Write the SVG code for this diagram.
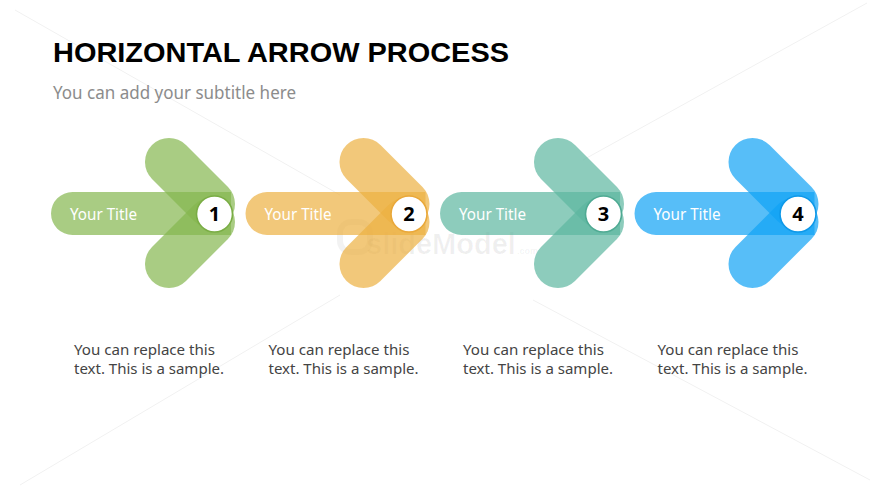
<svg xmlns="http://www.w3.org/2000/svg" width="870" height="489" viewBox="0 0 870 489">
<style>
.bg{fill:#ffffff}
.wm{stroke:#f1f1f1;stroke-width:1;fill:none}
.wmt{font-family:"Liberation Sans",Arial,sans-serif;font-weight:bold;fill:#000;fill-opacity:0.06}
.title{font-family:"Liberation Sans",Arial,sans-serif;font-weight:bold;font-size:28px;fill:#000}
.sub{font-family:"Noto Sans","Open Sans",sans-serif;font-size:17.5px;fill:#8c8c8c}
.body{font-family:"Noto Sans","Open Sans",sans-serif;font-size:15px;fill:#444444}
.lbl{font-family:"Noto Sans","Open Sans",sans-serif;font-size:16px;fill:#ffffff}
.num{font-family:"Noto Sans","Open Sans",sans-serif;font-weight:bold;font-size:20px;fill:#000;text-anchor:middle}
.seg{fill-opacity:0.7;stroke:none}
.arm{fill:none;stroke-width:48;stroke-linecap:round;stroke-opacity:0.7}
.dot{fill:#ffffff;stroke-width:1.6}
.g1 .seg{fill:#84B64E}.g1 .arm{stroke:#84B64E}.g1 .dot{stroke:#7AAD45}
.g2 .seg{fill:#ECB041}.g2 .arm{stroke:#ECB041}.g2 .dot{stroke:#E9A83A}
.g3 .seg{fill:#5CB69F}.g3 .arm{stroke:#5CB69F}.g3 .dot{stroke:#4FAA93}
.g4 .seg{fill:#10A2F5}.g4 .arm{stroke:#10A2F5}.g4 .dot{stroke:#0E98E8}
</style>
<rect class="bg" x="0" y="0" width="870" height="489"/>
<g id="watermark">
<line class="wm" x1="15" y1="10" x2="340" y2="195"/>
<line class="wm" x1="340" y1="295" x2="20" y2="485"/>
<line class="wm" x1="867" y1="3" x2="583" y2="160"/>
<line class="wm" x1="533" y1="300" x2="870" y2="480"/>
<rect x="340" y="222" width="30" height="30" rx="11" fill="none" stroke="#000" stroke-opacity="0.05" stroke-width="6"/>
<text class="wmt" x="366" y="254" font-size="29">slideModel</text>
<text class="wmt" x="517" y="254" font-size="9">.com</text>
</g>
<text id="title" class="title" x="53" y="62" textLength="456" lengthAdjust="spacingAndGlyphs">HORIZONTAL ARROW PROCESS</text>
<text id="subtitle" class="sub" x="53" y="99" textLength="243" lengthAdjust="spacingAndGlyphs">You can add your subtitle here</text>
<g id="connectors"></g>
<g id="step1" class="g1">
<path class="seg" d="M72.5,192 H231 V235 H72.5 A21.5,21.5 0 0 1 72.5,192 Z"/>
<line class="arm" x1="169" y1="162" x2="211" y2="204"/>
<line class="arm" x1="169" y1="264" x2="211" y2="222"/>
<circle class="dot" cx="214.5" cy="214" r="18"/>
<text class="num" x="214.5" y="221">1</text>
<text class="lbl" x="70" y="220" textLength="67" lengthAdjust="spacingAndGlyphs">Your Title</text>
<text class="body" x="74" y="355" textLength="141" lengthAdjust="spacingAndGlyphs">You can replace this</text>
<text class="body" x="74" y="374" textLength="150" lengthAdjust="spacingAndGlyphs">text. This is a sample.</text>
</g>
<g id="step2" class="g2" transform="translate(194.5,0)">
<path class="seg" d="M72.5,192 H231 V235 H72.5 A21.5,21.5 0 0 1 72.5,192 Z"/>
<line class="arm" x1="169" y1="162" x2="211" y2="204"/>
<line class="arm" x1="169" y1="264" x2="211" y2="222"/>
<circle class="dot" cx="214.5" cy="214" r="18"/>
<text class="num" x="214.5" y="221">2</text>
<text class="lbl" x="70" y="220" textLength="67" lengthAdjust="spacingAndGlyphs">Your Title</text>
<text class="body" x="74" y="355" textLength="141" lengthAdjust="spacingAndGlyphs">You can replace this</text>
<text class="body" x="74" y="374" textLength="150" lengthAdjust="spacingAndGlyphs">text. This is a sample.</text>
</g>
<g id="step3" class="g3" transform="translate(389,0)">
<path class="seg" d="M72.5,192 H231 V235 H72.5 A21.5,21.5 0 0 1 72.5,192 Z"/>
<line class="arm" x1="169" y1="162" x2="211" y2="204"/>
<line class="arm" x1="169" y1="264" x2="211" y2="222"/>
<circle class="dot" cx="214.5" cy="214" r="18"/>
<text class="num" x="214.5" y="221">3</text>
<text class="lbl" x="70" y="220" textLength="67" lengthAdjust="spacingAndGlyphs">Your Title</text>
<text class="body" x="74" y="355" textLength="141" lengthAdjust="spacingAndGlyphs">You can replace this</text>
<text class="body" x="74" y="374" textLength="150" lengthAdjust="spacingAndGlyphs">text. This is a sample.</text>
</g>
<g id="step4" class="g4" transform="translate(583.5,0)">
<path class="seg" d="M72.5,192 H231 V235 H72.5 A21.5,21.5 0 0 1 72.5,192 Z"/>
<line class="arm" x1="169" y1="162" x2="211" y2="204"/>
<line class="arm" x1="169" y1="264" x2="211" y2="222"/>
<circle class="dot" cx="214.5" cy="214" r="18"/>
<text class="num" x="214.5" y="221">4</text>
<text class="lbl" x="70" y="220" textLength="67" lengthAdjust="spacingAndGlyphs">Your Title</text>
<text class="body" x="74" y="355" textLength="141" lengthAdjust="spacingAndGlyphs">You can replace this</text>
<text class="body" x="74" y="374" textLength="150" lengthAdjust="spacingAndGlyphs">text. This is a sample.</text>
</g>
</svg>
